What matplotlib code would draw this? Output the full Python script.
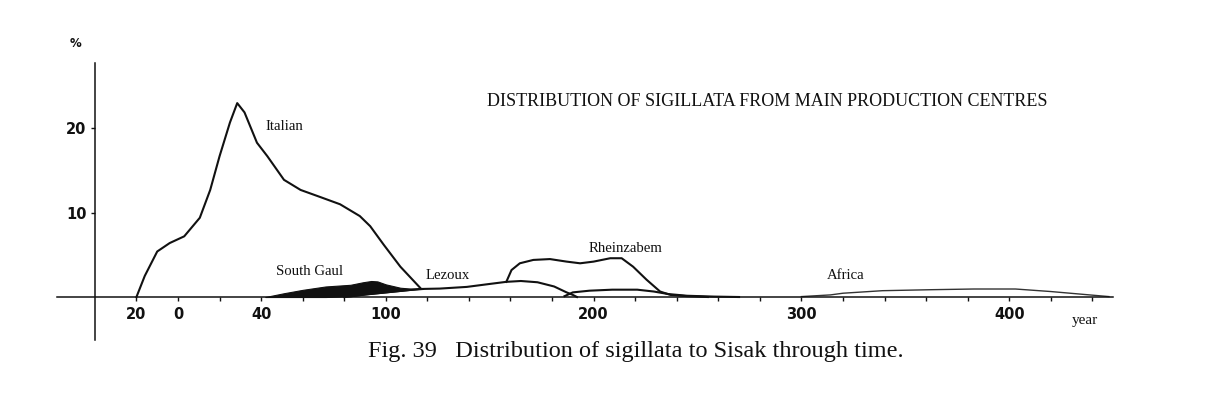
import numpy as np
import matplotlib
matplotlib.use("Agg")
import matplotlib.pyplot as plt

# Share of sigillata finds (%) by year for each production centre
italian_years = [-20, -16, -10, -4, 3, 10.5, 15.5, 20, 25, 28.5, 32, 38, 43, 51, 59, 68, 78, 87.5, 92.5, 99, 107, 116.5]
italian_pct = [0.0, 2.5, 5.4, 6.4, 7.2, 9.4, 12.7, 16.7, 20.7, 23.0, 21.9, 18.3, 16.7, 13.9, 12.7, 11.9, 11.0, 9.6, 8.4, 6.2, 3.6, 1.1]

south_gaul_years = [42, 51, 60, 71, 83, 89, 93, 96, 100, 107, 112, 118]
south_gaul_pct = [0.0, 0.45, 0.85, 1.25, 1.45, 1.75, 1.9, 1.85, 1.5, 1.1, 1.0, 1.0]

lezoux_years = [80, 90, 100, 110, 116, 126, 139, 150, 158, 165, 173, 181, 187, 190, 192]
lezoux_pct = [0.0, 0.3, 0.55, 0.8, 0.95, 1.0, 1.2, 1.55, 1.8, 1.9, 1.75, 1.25, 0.55, 0.25, 0.0]

rheinzabern_years = [158, 160.5, 164.5, 171, 179, 187, 193.5, 200, 208, 213.5, 219, 225.5, 232, 237, 245, 255]
rheinzabern_pct = [1.8, 3.2, 4.0, 4.4, 4.5, 4.2, 4.0, 4.2, 4.6, 4.6, 3.6, 2.05, 0.65, 0.25, 0.1, 0.0]

minor_years = [186, 190, 198, 209, 221, 229, 236, 245, 258, 270]
minor_pct = [0.1, 0.55, 0.75, 0.87, 0.87, 0.65, 0.35, 0.15, 0.05, 0.0]

africa_years = [300, 314, 320, 339, 363, 383, 403, 420, 434, 448]
africa_pct = [0.05, 0.25, 0.45, 0.75, 0.87, 0.95, 0.95, 0.65, 0.35, 0.05]

x_tick_years = list(range(-20, 441, 20))
x_tick_text = {-20: "20", 0: "0", 40: "40", 100: "100", 200: "200", 300: "300", 400: "400"}
y_tick_values = [10, 20]
y_tick_text = ["10", "20"]

W, H = 1206, 411
fig = plt.figure(figsize=(W / 100, H / 100), dpi=100)
fig.patch.set_facecolor("white")
ax = fig.add_axes([0, 0, 1, 1])
ax.patch.set_alpha(0)
ax.set_xlim(-85.66, 494.71)
ax.set_ylim(-13.52, 35.23)

for side in ("top", "right"):
    ax.spines[side].set_visible(False)
ax.spines["left"].set_position(("data", -40))
ax.spines["left"].set_bounds(-5.1, 27.7)
ax.spines["bottom"].set_position(("data", 0))
ax.spines["bottom"].set_bounds(-58, 450)
for s in ("left", "bottom"):
    ax.spines[s].set_linewidth(1.1)
    ax.spines[s].set_color("#111111")

tick_font = dict(family="DejaVu Sans", weight="bold", size=10.5)
ax.set_xticks(x_tick_years)
ax.set_xticklabels([x_tick_text.get(y, "") for y in x_tick_years], **tick_font)
ax.set_yticks(y_tick_values)
ax.set_yticklabels(y_tick_text, **tick_font)
ax.tick_params(axis="x", direction="out", length=3, width=1, pad=4.5, colors="#111111")
ax.tick_params(axis="y", direction="out", length=3, width=1, pad=3, colors="#111111")

ink = "#111111"
lw = 1.5

# South Gaul: solid black band sitting on the baseline / Lezoux curve
sg_years = np.array(south_gaul_years, dtype=float)
sg_lower = np.interp(sg_years, lezoux_years, lezoux_pct, left=0.0, right=0.0)
ax.fill_between(sg_years, sg_lower, south_gaul_pct, color=ink, linewidth=0.8, edgecolor=ink)

ax.plot(italian_years, italian_pct, color=ink, lw=lw, solid_joinstyle="round")
ax.plot(lezoux_years, lezoux_pct, color=ink, lw=lw, solid_joinstyle="round")
ax.plot(rheinzabern_years, rheinzabern_pct, color=ink, lw=lw, solid_joinstyle="round")
ax.plot(minor_years, minor_pct, color=ink, lw=lw, solid_joinstyle="round")
ax.plot(africa_years, africa_pct, color="#333333", lw=1.0, solid_joinstyle="round")

serif = "Liberation Serif"
label_kw = dict(family=serif, size=10.6, color=ink, ha="center", va="center")
ax.text(51.0, 20.2, "Italian", **label_kw)
ax.text(63.5, 3.0, "South Gaul", **label_kw)
ax.text(130, 2.5, "Lezoux", **label_kw)
ax.text(215.5, 5.8, "Rheinzabem", **label_kw)
ax.text(321.5, 2.5, "Africa", **label_kw)
ax.text(-49.1, 30.1, "%", family="DejaVu Sans", weight="bold", size=8.5, color=ink,
        ha="center", va="center")
ax.text(436.5, -2.75, "year", family=serif, size=11, color=ink, ha="center", va="center")

fig.text(487 / W, 1 - 101 / H, "DISTRIBUTION OF SIGILLATA FROM MAIN PRODUCTION CENTRES",
         family=serif, size=13, color=ink, ha="left", va="center")
fig.text(368 / W, 1 - 352 / H, "Fig. 39   Distribution of sigillata to Sisak through time.",
         family=serif, size=17.5, color=ink, ha="left", va="center")

fig.savefig("out.png", dpi=100, facecolor="white")
